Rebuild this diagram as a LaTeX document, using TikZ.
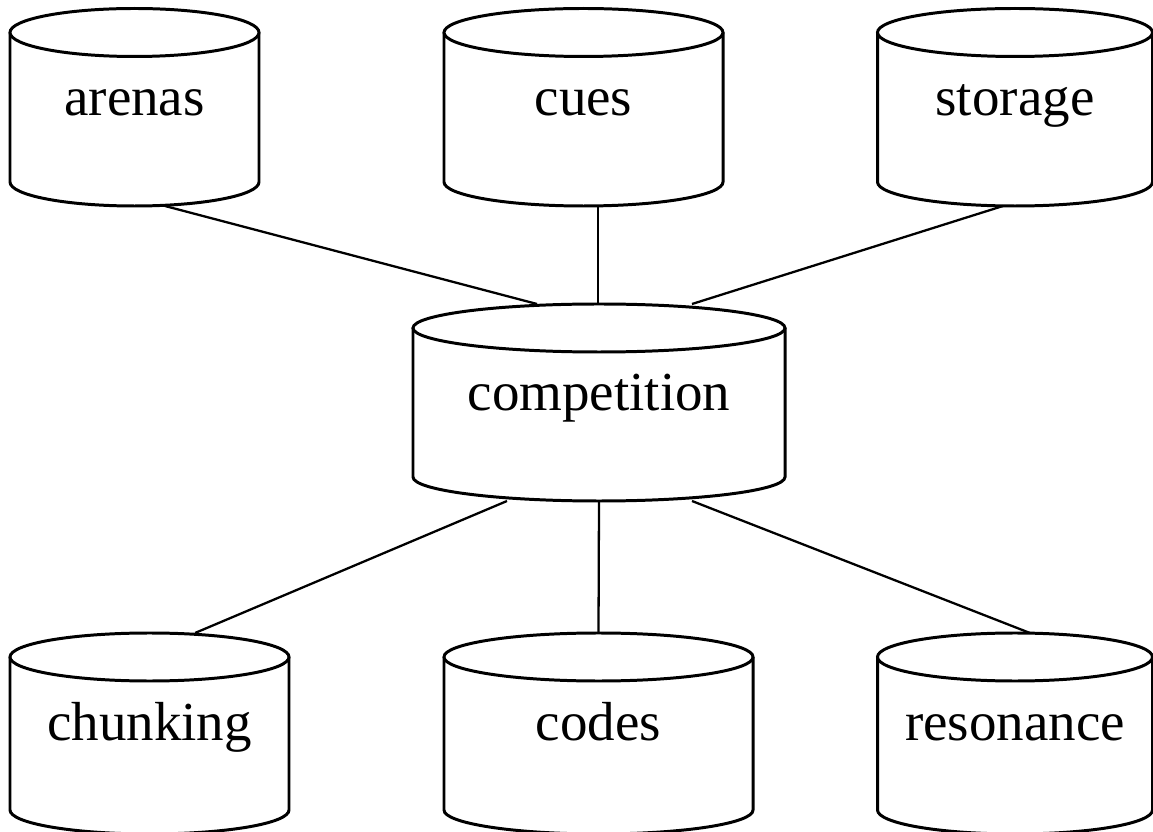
\documentclass[tikz,border=0pt]{standalone}
\usepackage{fontspec}
\setmainfont{Liberation Serif}
\usepackage{tikz}
\usetikzlibrary{calc}
\def\ry{0.48}
% cylinder: name, centre of top ellipse, half width, body height, text
\def\cyl#1(#2,#3)#4#5#6{%
	\draw[cylline] ({#2-#4}, #3) -- ++(0,-#5) arc (180:360:#4 and \ry) -- ++(0,#5);
	\draw[cylline] (#2, #3) ellipse (#4 and \ry);
	\coordinate (#1-top) at (#2, {#3+\ry});
	\coordinate (#1-bot) at (#2, {#3-#5-\ry});
	\node[cyltext] (#1) at (#2, {#3-1.66}) {#6};}

\begin{document}
\begin{tikzpicture}[
		cylline/.style={line width=1.7pt, fill=white},
		cyltext/.style={anchor=base, inner sep=0pt, font=\fontsize{31.3}{37}\selectfont},
		link/.style={line width=1.3pt}]
		%%%%% START %%%%%
		\useasboundingbox (0, 0) rectangle (23.06, 16.62);
		
		% top row
		\cyl{arenas}(2.69, 15.97){2.49}{2.99}{arenas}
		\cyl{cues}(11.67, 15.97){2.79}{2.99}{cues}
		\cyl{storage}(20.3, 15.97){2.75}{2.99}{storage}
		
		% middle
		\cyl{comp}(11.98, 10.06){3.72}{2.98}{competition}
		
		% bottom row
		\cyl{chunking}(2.99, 3.48){2.79}{3.06}{chunking}
		\cyl{codes}(11.97, 3.48){3.09}{3.06}{codes}
		\cyl{resonance}(20.3, 3.48){2.75}{3.06}{resonance}
		
		\draw[link] ([xshift=0.61cm]arenas-bot) -- ([xshift=-1.24cm]comp-top);
		\draw[link] ([xshift=0.29cm]cues-bot) -- ([xshift=0.29cm]cues-bot |- comp-top);
		\draw[link] ([xshift=-0.24cm]storage-bot) -- ([xshift=1.86cm]comp-top);
		
		\draw[link] ([xshift=-1.84cm]comp-bot) -- ([xshift=0.91cm]chunking-top);
		\draw[link] (comp-bot) -- (codes-top);
		\draw[link] ([xshift=1.86cm]comp-bot) -- ([xshift=0.3cm]resonance-top);
		%%%%% END %%%%%
	\end{tikzpicture}
\end{document}
